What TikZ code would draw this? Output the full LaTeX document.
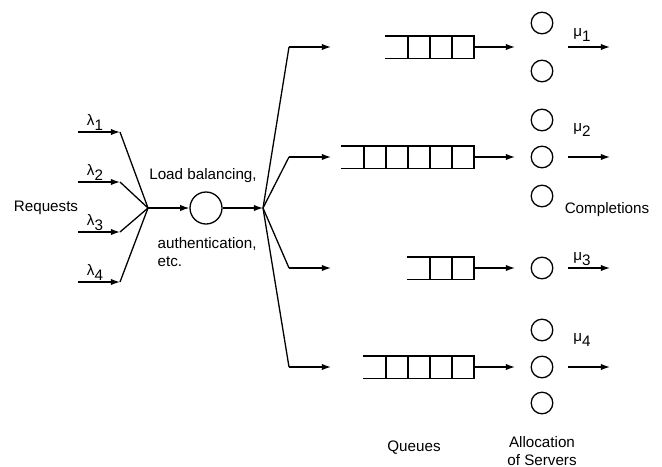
\documentclass[tikz,border=0pt]{standalone}
\usepackage{fontspec}
\setmainfont{Liberation Sans}
\usetikzlibrary{arrows.meta, positioning}
\newcommand{\lsub}[1]{\raisebox{-0.55ex}{#1}}

\begin{document}
\begin{tikzpicture}[
  x=0.5pt, y=-0.5pt,
  >={Latex[length=4.6pt, width=3.2pt]},
  line width=0.65pt,
  font=\fontsize{7.6}{9}\selectfont,
  lbnode/.style={draw, circle, minimum size=16pt, inner sep=0pt},
  server/.style={draw, circle, minimum size=10.8pt, inner sep=0pt},
  qbox/.style={rectangle, minimum height=10.5pt, inner sep=0pt, anchor=east},
  lbl/.style={inner sep=0pt}
]
  \useasboundingbox (0,0) rectangle (662,466);

  % arrivals and load balancer
  \coordinate (j1) at (148,208);
  \coordinate (j2) at (263,208);
  \node[lbnode] (lb) at (206,208) {};
  \foreach \i/\y in {1/132, 2/182, 3/232, 4/282} {
    \coordinate (in\i) at (78,\y);
    \coordinate (ar\i) at (120,\y);
    \draw[->] (in\i) -- (ar\i);
    \draw (ar\i) -- (j1);
    \node[lbl, anchor=south] (lam\i) at (95,131) [yshift={-(\i-1)*25pt}] {λ\lsub{\i}};
  }
  \draw[->] (j1) -- (lb);
  \draw[->] (lb) -- (j2);

  \node[lbl] (req) at (46,208) {Requests};
  \node[lbl] (lbtxt) at (203,176) {Load balancing,};
  \node[lbl, anchor=west, align=left] (auth) at (157,252) {authentication,\\etc.};

  % branches, queues and outputs
  \foreach \q/\n/\y in {1/4/47, 2/6/157, 3/3/268, 4/5/367} {
    \coordinate (br\q) at (289,\y);
    \coordinate (bt\q) at (331,\y);
    \draw (j2) -- (br\q);
    \draw[->] (br\q) -- (bt\q);
    \node[qbox, minimum width=\n*11pt] (q\q) at (474,\y) {};
    \draw (q\q.north west) -- (q\q.north east) -- (q\q.south east) -- (q\q.south west);
    \foreach \k in {1,...,\n}
      \draw ([xshift={-(\k-1)*11pt}]q\q.north east) -- ([xshift={-(\k-1)*11pt}]q\q.south east);
    \coordinate (qt\q) at (515,\y);
    \draw[->] (q\q.east) -- (qt\q);
    \coordinate (os\q) at (568,\y);
    \coordinate (ot\q) at (610,\y);
    \draw[->] (os\q) -- (ot\q);
  }

  % servers
  \foreach \s/\y in {s11/23, s12/71, s21/120, s22/157, s23/196, s31/268, s41/330, s42/367, s43/403}
    \node[server] (\s) at (542,\y) {};

  \node[lbl] (mu1) at (582,35) {μ\lsub{1}};
  \node[lbl] (mu2) at (582,130) {μ\lsub{2}};
  \node[lbl] (mu3) at (582,259) {μ\lsub{3}};
  \node[lbl] (mu4) at (582,340) {μ\lsub{4}};

  \node[lbl] (compl) at (607,210) {Completions};
  \node[lbl] (queues) at (414,448) {Queues};
  \node[lbl, align=center] (alloc) at (542,451) {Allocation\\of Servers};
\end{tikzpicture}
\end{document}
